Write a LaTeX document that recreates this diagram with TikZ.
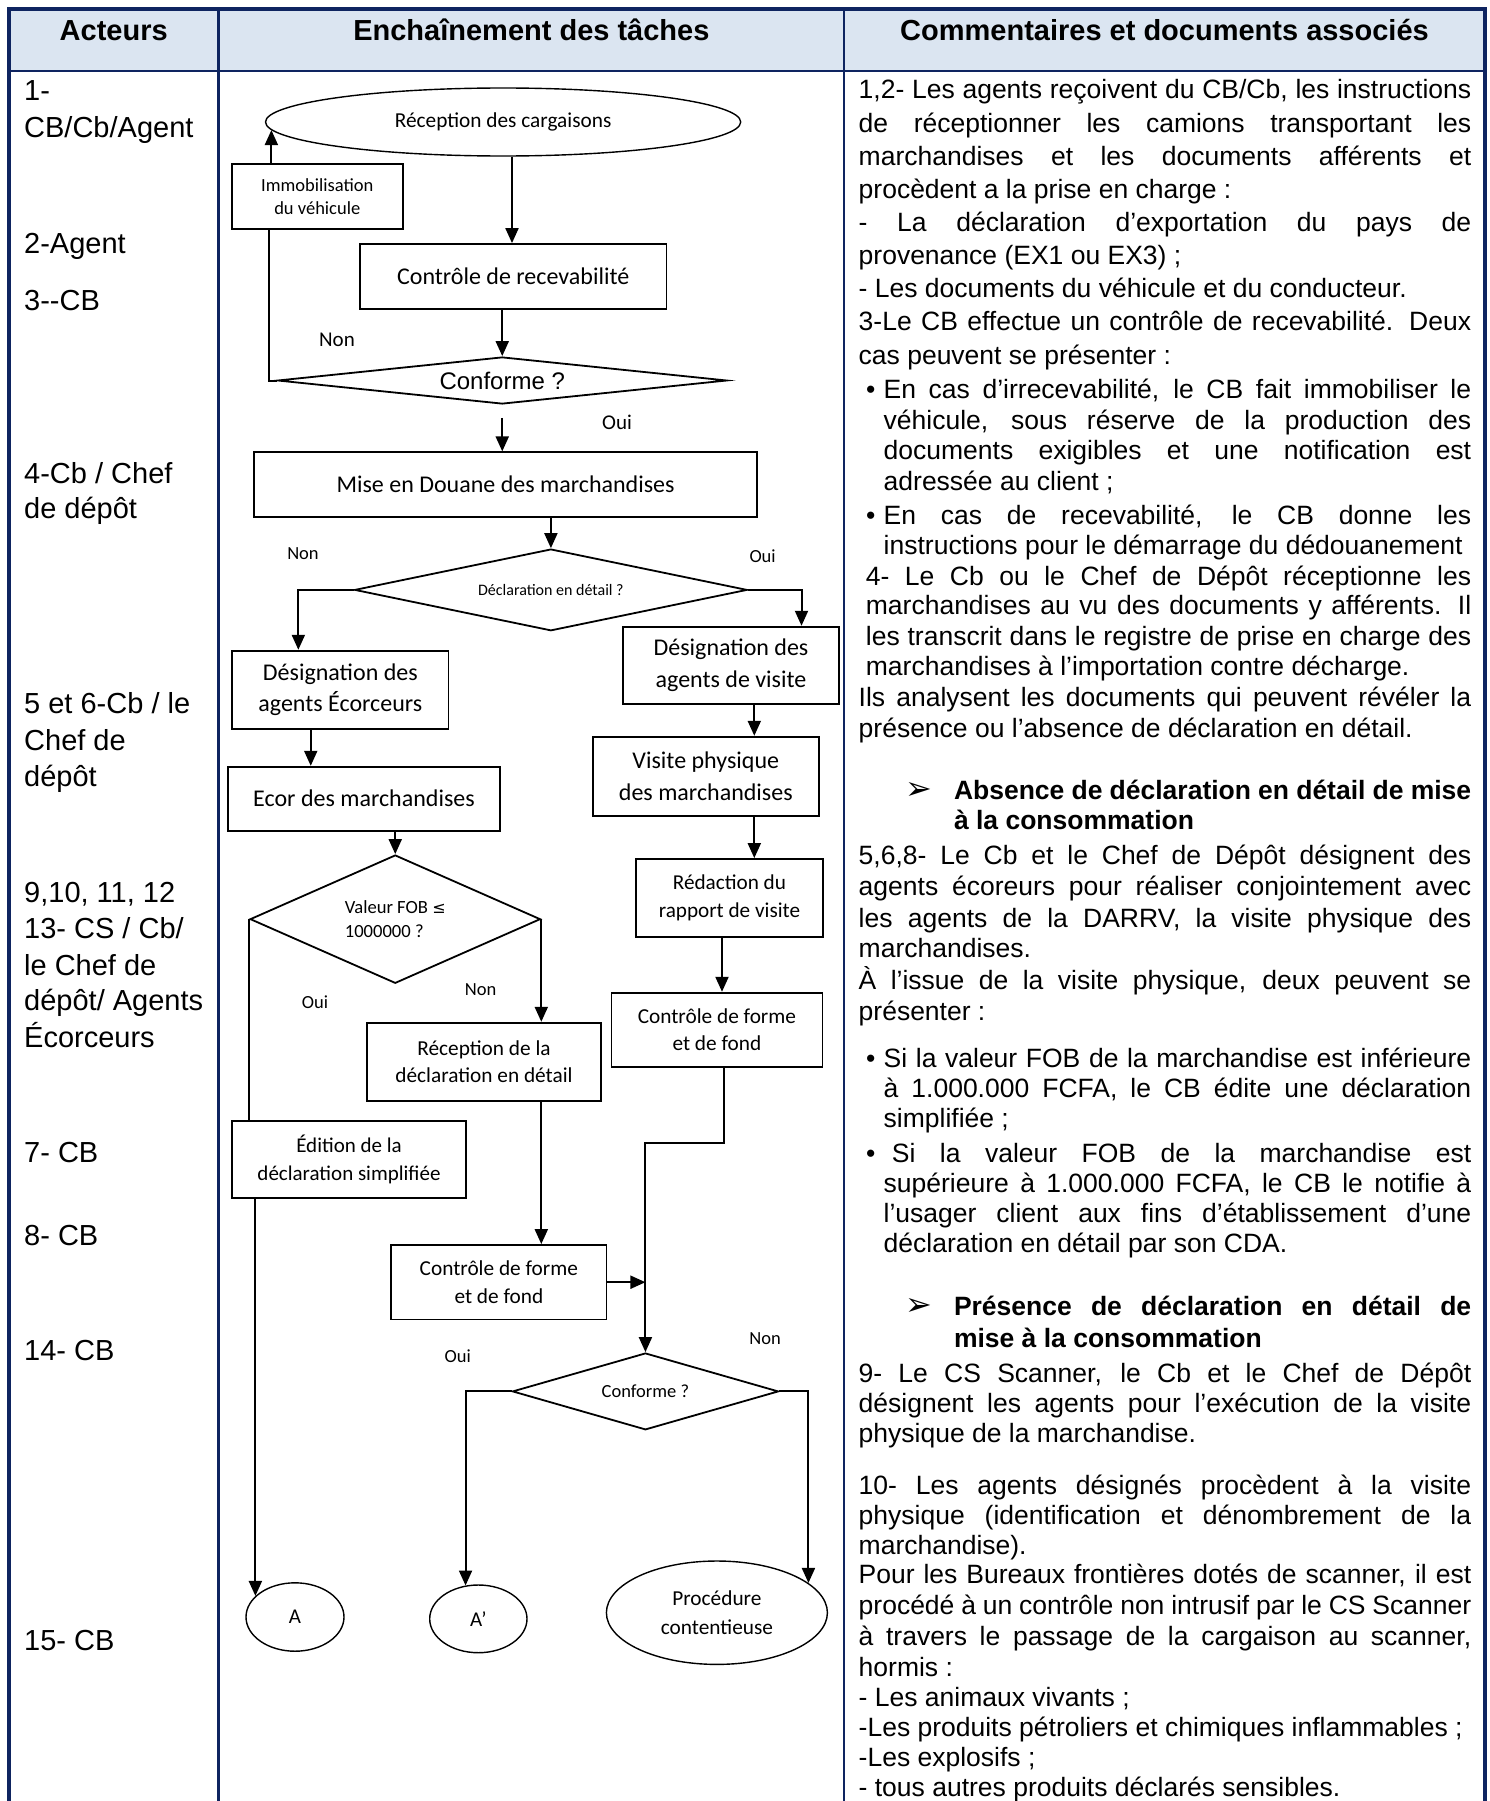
\documentclass[tikz,border=0pt]{standalone}
\usepackage{fontspec}
\setmainfont{Liberation Sans}
\newfontfamily\calib{Carlito}
\newfontfamily\dejavu{DejaVu Sans}
\usetikzlibrary{shapes.geometric,arrows.meta,calc}
\definecolor{navy}{RGB}{14,36,96}
\definecolor{headfill}{RGB}{219,229,241}
\newcommand\fsz[2]{\fontsize{#1}{#2}\selectfont}
\newcommand\jus[2]{\makebox[#1][s]{#2}}
\tikzset{
 tb/.style={draw, line width=1.8pt, rectangle, inner sep=0pt, align=center},
 dm/.style={draw, line width=1.8pt, diamond, inner sep=0pt, align=center},
 el/.style={draw, line width=1.4pt, ellipse, inner sep=0pt, align=center},
 arr/.style={line width=2pt, -{Triangle[length=15pt,width=13pt]}},
 ln/.style={line width=2pt},
 lb/.style={inner sep=0pt, font=\calib\fsz{18.5}{22}},
 ct/.style={anchor=base west, inner sep=0pt, font=\fsz{26.5}{30}},
 ctb/.style={anchor=base west, inner sep=0pt, font=\bfseries\fsz{26.5}{30}},
 act/.style={anchor=base west, inner sep=0pt, font=\fsz{29}{33}},
 hd/.style={anchor=base, inner sep=0pt, font=\bfseries\fsz{29}{33}},
 arw/.style={anchor=base west, inner sep=0pt, font=\dejavu\fsz{32}{34}}
}
\begin{document}
\begin{tikzpicture}[x=1pt,y=-1pt]
\useasboundingbox (0,0) rectangle (1489,1801);
\clip (0,0) rectangle (1489,1801);
% ---------- table ----------
\fill[headfill] (8.7,8.7) rectangle (1485,71.3);
\draw[navy, line width=2pt] (8.7,71.3) -- (1485,71.3);
\draw[navy, line width=2.5pt] (218.7,8.7) -- (218.7,1815);
\draw[navy, line width=2.5pt] (844,8.7) -- (844,1815);
\draw[navy, line width=4pt] (8.7,1815) -- (8.7,8.7) -- (1485,8.7) -- (1485,1815);
\node[hd] (h1) at (113.7,40.4) {Acteurs};
\node[hd] (h2) at (531.4,40.4) {Enchaînement des tâches};
\node[hd] (h3) at (1164.5,40.4) {Commentaires et documents associés};
% ---------- actors ----------
\node[act] (a1) at (24,100.5) {1-};
\node[act] (a2) at (24,137.5) {CB/Cb/Agent};
\node[act] (a3) at (24,253.5) {2-Agent};
\node[act] (a4) at (24,310) {3-{}-CB};
\node[act] (a5) at (24,483) {4-Cb / Chef};
\node[act] (a6) at (24,518) {de dépôt};
\node[act] (a7) at (24,713) {5 et 6-Cb / le};
\node[act] (a8) at (24,750) {Chef de};
\node[act] (a9) at (24,786.5) {dépôt};
\node[act] (a10) at (24,902.5) {9,10, 11, 12};
\node[act] (a11) at (24,938) {13- CS / Cb/};
\node[act] (a12) at (24,975) {le Chef de};
\node[act] (a13) at (24,1010.5) {dépôt/ Agents};
\node[act] (a14) at (24,1047) {Écorceurs};
\node[act] (a15) at (24,1162) {7- CB};
\node[act] (a16) at (24,1245) {8- CB};
\node[act] (a17) at (24,1360) {14- CB};
\node[act] (a18) at (24,1650) {15- CB};
% ---------- flowchart nodes ----------
\node[el, minimum width=475.2pt, minimum height=68pt, font=\calib\fsz{21.3}{26}] (recep) at (503.1,122) {Réception des cargaisons};
\node[tb, minimum width=171.3pt, minimum height=65pt, font=\calib\fsz{18.5}{23}] (immo) at (317.25,196.5) {Immobilisation\\du véhicule};
\node[tb, minimum width=306.7pt, minimum height=65pt, font=\calib\fsz{24}{30}] (recv) at (513.15,276.5) {Contrôle de recevabilité};
\node[dm, aspect=9.56, minimum width=449.5pt, minimum height=47pt, font=\fsz{24}{28}] (conf1) at (502.25,380.5) {Conforme ?};
\node[tb, minimum width=502.5pt, minimum height=64.4pt, font=\calib\fsz{24}{30}] (mise) at (505.55,484.5) {Mise en Douane des marchandises};
\node[dm, aspect=4.8, minimum width=392.6pt, minimum height=81.7pt, font=\calib\fsz{16}{20}] (decl) at (550.9,589.9) {Déclaration en détail ?};
\node[tb, minimum width=216.3pt, minimum height=78.3pt, font=\calib\fsz{24}{31.5}] (desE) at (340.35,689.85) {Désignation des\\agents Écorceurs};
\node[tb, minimum width=216pt, minimum height=77.6pt, font=\calib\fsz{24}{32}] (desV) at (731,665.5) {Désignation des\\agents de visite};
\node[tb, minimum width=272pt, minimum height=64pt, font=\calib\fsz{24}{30}] (ecor) at (364,798.7) {Ecor des marchandises};
\node[tb, minimum width=226.4pt, minimum height=79pt, font=\calib\fsz{24}{31.6}] (visite) at (705.8,776.2) {Visite physique\\des marchandises};
\node[dm, aspect=2.26, minimum width=290.3pt, minimum height=128.3pt, align=left, font=\calib\fsz{18.6}{24}] (fob) at (395.25,919.15) {Valeur FOB {\dejavu\fsz{16}{24}≤}\\1000000 ?};
\node[tb, minimum width=187.5pt, minimum height=78.3pt, font=\calib\fsz{21.2}{28}] (redac) at (729.45,898.15) {Rédaction du\\rapport de visite};
\node[tb, minimum width=234pt, minimum height=78pt, font=\calib\fsz{21.3}{27.7}] (recdec) at (484,1061.7) {Réception de la\\déclaration en détail};
\node[tb, minimum width=211pt, minimum height=74.6pt, font=\calib\fsz{21.3}{27}] (ctrlR) at (716.9,1030) {Contrôle de forme\\et de fond};
\node[tb, minimum width=234pt, minimum height=77.6pt, font=\calib\fsz{21}{28.3}] (edit) at (349,1159.5) {Édition de la\\déclaration simplifiée};
\node[tb, minimum width=215.1pt, minimum height=74.4pt, font=\calib\fsz{21.3}{27.6}] (ctrlL) at (498.85,1282.2) {Contrôle de forme\\et de fond};
\node[dm, aspect=3.46, minimum width=266.1pt, minimum height=76.8pt, font=\calib\fsz{18.5}{22}] (conf2) at (645.45,1391.4) {Conforme ?};
\node[el, minimum width=98pt, minimum height=68.4pt, font=\calib\fsz{21}{26}] (A) at (295,1617) {A};
\node[el, minimum width=97.3pt, minimum height=67.7pt, font=\calib\fsz{21}{26}] (Ap) at (478.35,1618.85) {A’};
\node[el, minimum width=221pt, minimum height=103.4pt, font=\calib\fsz{21.3}{28.5}] (proc) at (716.9,1612.7) {Procédure\\contentieuse};
% ---------- connectors ----------
\draw[arr] (recep.south -| 512,0) -- (recv.north -| 512,0);
\draw[arr] (recv.south -| conf1.north) -- (conf1.north);
\draw[ln] (conf1.west) -- ++(-7.5,0) coordinate (k1) -- (k1 |- immo.south);
\draw[arr] (recep.182.3 |- immo.north) -- (recep.182.3);
\draw[arr] ([yshift=-13pt]conf1.south) -- (mise.north -| conf1.south);
\draw[arr] (decl.north |- mise.south) -- (decl.north);
\draw[arr] (decl.west) -| ([xshift=-42pt]desE.north);
\draw[arr] (decl.east) -| ([xshift=70.5pt]desV.north);
\draw[arr] ([xshift=-29.6pt]desE.south) -- ([xshift=-29.6pt]desE.south |- ecor.north);
\draw[arr] ([xshift=23.3pt]desV.south) -- ([xshift=23.3pt]desV.south |- visite.north);
\draw[arr] (fob.north |- ecor.south) -- (fob.north);
\draw[arr] ([xshift=48.5pt]visite.south) -- ([xshift=48.5pt]visite.south |- redac.north);
\draw[ln] (fob.west) -- (fob.west |- edit.north);
\draw[arr] (A.152.7 |- edit.south) -- (A.152.7);
\draw[arr] (fob.east) -- (fob.east |- recdec.north);
\draw[arr] ([xshift=-7.45pt]redac.south) -- ([xshift=-7.45pt]redac.south |- ctrlR.north);
\draw[arr] ([xshift=57.3pt]recdec.south) -- ([xshift=57.3pt]recdec.south |- ctrlL.north);
\draw[arr] ([xshift=7.3pt]ctrlR.south) -- ++(0,75) -| (conf2.north);
\draw[arr] (ctrlL.east) -- (ctrlL.east -| conf2.north);
\draw[arr] (conf2.west) -| (Ap.111.3);
\draw[arr] (conf2.east) -| (proc.18);
% ---------- branch labels ----------
\node[lb, font=\calib\fsz{21}{25}] (l1) at (337,340) {Non};
\node[lb, font=\calib\fsz{21}{25}] (l2) at (617,422) {Oui};
\node[lb] (l3) at (303,554) {Non};
\node[lb] (l4) at (762.6,556) {Oui};
\node[lb] (l5) at (315,1002) {Oui};
\node[lb] (l6) at (480.7,990) {Non};
\node[lb] (l7) at (765,1338.7) {Non};
\node[lb] (l8) at (457.7,1356.6) {Oui};
% ---------- comments ----------
\node[ct] (c1) at (858.5,99) {\jus{612.5pt}{1,2- Les agents reçoivent du CB/Cb, les instructions}};
\node[ct] (c2) at (858.5,132.3) {\jus{612.5pt}{de réceptionner les camions transportant les}};
\node[ct] (c3) at (858.5,165) {\jus{612.5pt}{marchandises et les documents afférents et}};
\node[ct] (c4) at (858.5,198.3) {procèdent a la prise en charge :};
\node[ct] (c5) at (858.5,231.7) {\jus{612.5pt}{- La déclaration d’exportation du pays de}};
\node[ct] (c6) at (858.5,264) {provenance (EX1 ou EX3) ;};
\node[ct] (c7) at (858.5,297.3) {- Les documents du véhicule et du conducteur.};
\node[ct] (c8) at (858.5,330.7) {\jus{612.5pt}{3-Le CB effectue un contrôle de recevabilité. Deux}};
\node[ct] (c9) at (858.5,364) {cas peuvent se présenter :};
\node[ct] (b1) at (866,398.3) {•};
\node[ct] (c10) at (883.5,398.3) {\jus{587.5pt}{En cas d’irrecevabilité, le CB fait immobiliser le}};
\node[ct] (c11) at (883.5,429.7) {\jus{587.5pt}{véhicule, sous réserve de la production des}};
\node[ct] (c12) at (883.5,459) {\jus{587.5pt}{documents exigibles et une notification est}};
\node[ct] (c13) at (883.5,490.7) {adressée au client ;};
\node[ct] (b2) at (866,524) {•};
\node[ct] (c14) at (883.5,524) {\jus{587.5pt}{En cas de recevabilité, le CB donne les}};
\node[ct] (c15) at (883.5,554) {instructions pour le démarrage du dédouanement};
\node[ct] (c16) at (865.7,585.7) {\jus{605.3pt}{4- Le Cb ou le Chef de Dépôt réceptionne les}};
\node[ct] (c17) at (865.7,614) {\jus{605.3pt}{marchandises au vu des documents y afférents. Il}};
\node[ct] (c18) at (865.7,645.7) {\jus{605.3pt}{les transcrit dans le registre de prise en charge des}};
\node[ct] (c19) at (865.7,675.7) {marchandises à l’importation contre décharge.};
\node[ct] (c20) at (858.5,706.7) {\jus{612.5pt}{Ils analysent les documents qui peuvent révéler la}};
\node[ct] (c21) at (858.5,737) {présence ou l’absence de déclaration en détail.};
\node[arw] (r1) at (905,799) {➢};
\node[ctb] (c22) at (953.8,799) {\jus{517.2pt}{Absence de déclaration en détail de mise}};
\node[ctb] (c23) at (953.8,829) {à la consommation};
\node[ct] (c24) at (858.5,864) {\jus{612.5pt}{5,6,8- Le Cb et le Chef de Dépôt désignent des}};
\node[ct] (c25) at (858.5,895.7) {\jus{612.5pt}{agents écoreurs pour réaliser conjointement avec}};
\node[ct] (c26) at (858.5,927.3) {\jus{612.5pt}{les agents de la DARRV, la visite physique des}};
\node[ct] (c27) at (858.5,957.3) {marchandises.};
\node[ct] (c28) at (858.5,989) {\jus{612.5pt}{À l’issue de la visite physique, deux peuvent se}};
\node[ct] (c29) at (858.5,1020.7) {présenter :};
\node[ct] (b3) at (866,1067.3) {•};
\node[ct] (c30) at (883.5,1067.3) {\jus{587.5pt}{Si la valeur FOB de la marchandise est inférieure}};
\node[ct] (c31) at (883.5,1097.3) {\jus{587.5pt}{à 1.000.000 FCFA, le CB édite une déclaration}};
\node[ct] (c32) at (883.5,1127.3) {simplifiée ;};
\node[ct] (b4) at (866,1162.3) {•};
\node[ct] (c33) at (891.7,1162.3) {\jus{579.3pt}{Si la valeur FOB de la marchandise est}};
\node[ct] (c34) at (883.5,1192) {\jus{587.5pt}{supérieure à 1.000.000 FCFA, le CB le notifie à}};
\node[ct] (c35) at (883.5,1222) {\jus{587.5pt}{l’usager client aux fins d’établissement d’une}};
\node[ct] (c36) at (883.5,1252) {déclaration en détail par son CDA.};
\node[arw] (r2) at (905,1315.7) {➢};
\node[ctb] (c37) at (953.8,1315.7) {\jus{517.2pt}{Présence de déclaration en détail de}};
\node[ctb] (c38) at (953.8,1347) {mise à la consommation};
\node[ct] (c39) at (858.5,1382) {\jus{612.5pt}{9- Le CS Scanner, le Cb et le Chef de Dépôt}};
\node[ct] (c40) at (858.5,1412) {\jus{612.5pt}{désignent les agents pour l’exécution de la visite}};
\node[ct] (c41) at (858.5,1442) {physique de la marchandise.};
\node[ct] (c42) at (858.5,1494) {\jus{612.5pt}{10- Les agents désignés procèdent à la visite}};
\node[ct] (c43) at (858.5,1524) {\jus{612.5pt}{physique (identification et dénombrement de la}};
\node[ct] (c44) at (858.5,1554) {marchandise).};
\node[ct] (c45) at (858.5,1583) {\jus{612.5pt}{Pour les Bureaux frontières dotés de scanner, il est}};
\node[ct] (c46) at (858.5,1614) {\jus{612.5pt}{procédé à un contrôle non intrusif par le CS Scanner}};
\node[ct] (c47) at (858.5,1645) {\jus{612.5pt}{à travers le passage de la cargaison au scanner,}};
\node[ct] (c48) at (858.5,1676) {hormis :};
\node[ct] (c49) at (858.5,1706) {- Les animaux vivants ;};
\node[ct] (c50) at (858.5,1736) {-Les produits pétroliers et chimiques inflammables ;};
\node[ct] (c51) at (858.5,1766) {-Les explosifs ;};
\node[ct] (c52) at (858.5,1796.5) {- tous autres produits déclarés sensibles.};
\end{tikzpicture}
\end{document}
